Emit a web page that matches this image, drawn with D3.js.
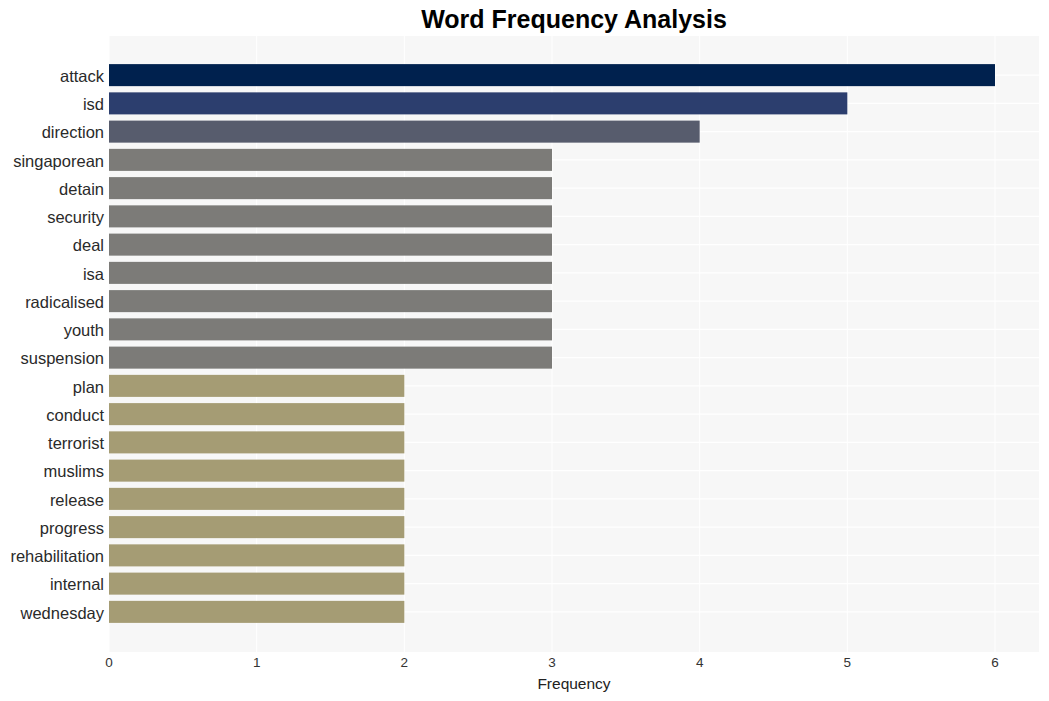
<!DOCTYPE html>
<html><head><meta charset="utf-8">
<script src="https://cdn.jsdelivr.net/npm/d3@7"></script>
<style>body{margin:0;background:#fff;}svg{display:block;font-family:"Liberation Sans",Arial,sans-serif;}</style>
</head><body><svg id="c" width="1049" height="701"></svg>
<script>
const words = ["attack","isd","direction","singaporean","detain","security","deal","isa","radicalised","youth","suspension","plan","conduct","terrorist","muslims","release","progress","rehabilitation","internal","wednesday"];
const freqs = [6,5,4,3,3,3,3,3,3,3,3,2,2,2,2,2,2,2,2,2];
const barColors = ["#00214e","#2c3e6e","#575c6d","#7c7b78","#7c7b78","#7c7b78","#7c7b78","#7c7b78","#7c7b78","#7c7b78","#7c7b78","#a59c74","#a59c74","#a59c74","#a59c74","#a59c74","#a59c74","#a59c74","#a59c74","#a59c74"];
const xTicks = [0,1,2,3,4,5,6];
const titleText = "Word Frequency Analysis";
const xLabel = "Frequency";

const svg = d3.select("#c");
const L = 109, R = 1039, T = 36, B = 652;
const x = d3.scaleLinear().domain([0, 6.3]).range([L, L + 6.3 * (995 - 109) / 6]);
const y = d3.scaleBand().domain(words).range([61, 626]).paddingInner(0.22).paddingOuter(0.11);

svg.append("rect").attr("x", L).attr("y", T).attr("width", R - L).attr("height", B - T).attr("fill", "#f7f7f7");

// vertical grid
svg.append("g").selectAll("line").data(xTicks).join("line")
  .attr("x1", d => x(d)).attr("x2", d => x(d)).attr("y1", T).attr("y2", B)
  .attr("stroke", "#ffffff").attr("stroke-width", 1.1);
// horizontal grid
svg.append("g").selectAll("line").data(words).join("line")
  .attr("x1", L).attr("x2", R).attr("y1", d => y(d) + y.bandwidth() / 2).attr("y2", d => y(d) + y.bandwidth() / 2)
  .attr("stroke", "#ffffff").attr("stroke-width", 1.1);

svg.append("g").selectAll("rect").data(words).join("rect")
  .attr("x", x(0)).attr("y", d => y(d))
  .attr("width", (d, i) => x(freqs[i]) - x(0)).attr("height", y.bandwidth())
  .attr("fill", (d, i) => barColors[i]);

// y labels
svg.append("g").selectAll("text").data(words).join("text")
  .attr("x", L - 5).attr("y", d => y(d) + y.bandwidth() / 2 + 1).attr("dy", "0.35em")
  .attr("text-anchor", "end").attr("font-size", 16.5).attr("fill", "#2a2a2a")
  .text(d => d);

// x tick labels
svg.append("g").selectAll("text").data(xTicks).join("text")
  .attr("x", d => x(d)).attr("y", 667).attr("text-anchor", "middle")
  .attr("font-size", 13.5).attr("fill", "#333").text(d => d);

svg.append("text").attr("x", (L + R) / 2).attr("y", 689).attr("text-anchor", "middle")
  .attr("font-size", 15.5).attr("fill", "#222").text(xLabel);

svg.append("text").attr("x", (L + R) / 2).attr("y", 28).attr("text-anchor", "middle")
  .attr("font-size", 25).attr("font-weight", "bold").attr("fill", "#000").text(titleText);
</script></body></html>
